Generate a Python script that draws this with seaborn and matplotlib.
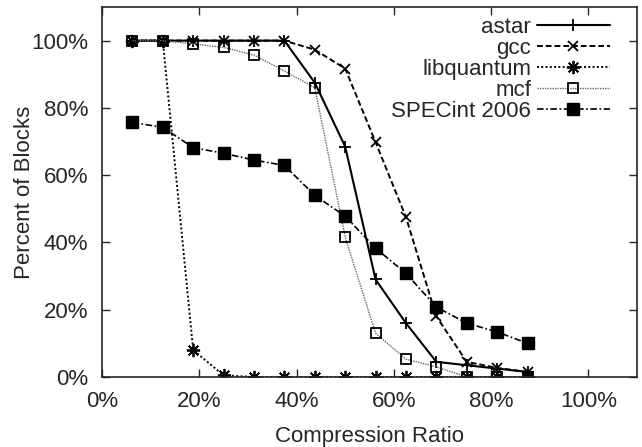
import numpy as np
import pandas as pd
import seaborn as sns
import matplotlib.pyplot as plt
from matplotlib.ticker import PercentFormatter

sns.set_style("ticks")
plt.rcParams['font.family'] = ['Liberation Sans', 'DejaVu Sans']

# compression ratio (x/16)
ratio = [6.25, 12.5, 18.75, 25.0, 31.25, 37.5, 43.75, 50.0, 56.25, 62.5, 68.75, 75.0, 81.25, 87.5]

astar = [100, 100, 100, 100, 100, 100, 87.5, 68.5, 29, 16, 4.5, 3.5, 2.5, 1.5]
gcc = [100, 100, 100, 100, 100, 100, 97.3, 91.7, 69.8, 47.5, 18, 4.5, 2.7, 1.5]
libquantum = [100, 100, 8, 0.5, 0, 0, 0, 0, 0, 0, 0, 0, 0, 0]
mcf = [100, 100, 99, 98, 95.7, 91, 86, 41.6, 13, 5.3, 3, 0, 0, 0]
specint = [75.7, 74.2, 68.2, 66.5, 64.5, 62.9, 54, 47.8, 38.3, 30.8, 20.8, 16, 13.4, 10]

names = ["astar", "gcc", "libquantum", "mcf", "SPECint 2006"]
series = [astar, gcc, libquantum, mcf, specint]

# gnuplot-ish point/line types
styles = {
    "astar": dict(marker="+", ms=9, mew=1.3, dashes=None, color="black", mfc="black", lw=1.5),
    "gcc": dict(marker="x", ms=7, mew=1.3, dashes=(3, 1.5), color="black", mfc="black", lw=1.4),
    "libquantum": dict(marker=(8, 2, 0), ms=9.5, mew=1.3, dashes=(1, 1.2), color="black", mfc="black", lw=1.4),
    "mcf": dict(marker="s", ms=7.5, mew=1.3, dashes=(1, 0.8), color="#666666", mfc="none", lw=1.0),
    "SPECint 2006": dict(marker="s", ms=8, mew=1.0, dashes=(4, 1.5, 1, 1.5), color="black", mfc="black", lw=1.2),
}

df = pd.concat([pd.DataFrame({"ratio": ratio, "pct": vals, "bench": n}) for n, vals in zip(names, series)])

fig = plt.figure(figsize=(6.42, 4.47), dpi=100)
ax = fig.add_axes([102 / 642, 70 / 447, 535 / 642, 370 / 447])

for n in names:
    st = styles[n]
    sns.lineplot(data=df[df.bench == n], x="ratio", y="pct", ax=ax, label=n,
                 marker=st["marker"], markersize=st["ms"], markeredgewidth=st["mew"],
                 markerfacecolor=st["mfc"], markeredgecolor="black",
                 color=st["color"], linewidth=st["lw"])
    if st["dashes"] is not None:
        ax.lines[-1].set_dashes(st["dashes"])

ax.set_xlim(0, 110)
ax.set_ylim(0, 110)
ax.set_xticks([0, 20, 40, 60, 80, 100])
ax.set_yticks([0, 20, 40, 60, 80, 100])
ax.xaxis.set_major_formatter(PercentFormatter(decimals=0))
ax.yaxis.set_major_formatter(PercentFormatter(decimals=0))
ax.tick_params(direction="in", top=True, right=True, labelsize=16, length=6, width=1)
ax.tick_params(axis="y", pad=10)
ax.tick_params(axis="x", pad=10)
for s in ax.spines.values():
    s.set_linewidth(1.2)
ax.set_xlabel("Compression Ratio", fontsize=16, labelpad=10)
ax.set_ylabel("Percent of Blocks", fontsize=16, labelpad=-3)

leg = ax.legend(loc="upper right", bbox_to_anchor=(0.958, 0.986), markerfirst=False,
                frameon=False, fontsize=16, handlelength=3.3, labelspacing=0.0,
                borderpad=0.2, borderaxespad=0, handletextpad=0.25)
leg._legend_box.align = "right"

fig.savefig("out.png", dpi=100)
